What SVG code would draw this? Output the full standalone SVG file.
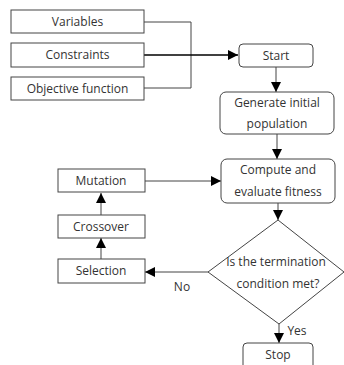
<svg xmlns="http://www.w3.org/2000/svg" width="344" height="365" viewBox="0 0 344 365">
<style>
.box{fill:#fff;stroke:#444;stroke-width:1}
.t{font-family:"Open Sans","Noto Sans",sans-serif;font-size:12px;fill:#333;text-anchor:middle}
.c{fill:none;stroke:#444;stroke-width:1}
</style>
<defs>
<marker id="ah" viewBox="0 0 10 10" refX="10" refY="5" markerWidth="10" markerHeight="10" markerUnits="userSpaceOnUse" orient="auto">
<path d="M0,0 L10,5 L0,10 Z" fill="#000"/>
</marker>
</defs>
<rect width="344" height="365" fill="#fff"/>
<g id="connectors">
<path class="c" d="M144,22 H191 V88 H144"/>
<path class="c" d="M144,55 H238" style="stroke:#000;stroke-width:1.6" marker-end="url(#ah)"/>
<path class="c" d="M276,67 V92" marker-end="url(#ah)"/>
<path class="c" d="M277,134 V159" marker-end="url(#ah)"/>
<path class="c" d="M278,203 V220" marker-end="url(#ah)"/>
<path class="c" d="M208,272 H145" marker-end="url(#ah)"/>
<path class="c" d="M101,259 V238" marker-end="url(#ah)"/>
<path class="c" d="M101,215 V193" marker-end="url(#ah)"/>
<path class="c" d="M145,181 H221" marker-end="url(#ah)"/>
<path class="c" d="M279,324 V343" marker-end="url(#ah)"/>
<text class="t" x="182" y="291">No</text>
<text class="t" x="297" y="335">Yes</text>
</g>
<g id="variables"><rect class="box" x="11" y="10" width="133" height="23"/><text class="t" x="77.5" y="26">Variables</text></g>
<g id="constraints"><rect class="box" x="11" y="43" width="133" height="24"/><text class="t" x="77.5" y="59">Constraints</text></g>
<g id="objective"><rect class="box" x="11" y="77" width="133" height="23"/><text class="t" x="77.5" y="93">Objective function</text></g>
<g id="start"><rect class="box" x="239" y="44" width="74" height="23" rx="4"/><text class="t" x="276" y="60">Start</text></g>
<g id="generate"><rect class="box" x="220" y="92" width="114" height="42" rx="6"/><text class="t" x="277" y="107">Generate initial</text><text class="t" x="277" y="128">population</text></g>
<g id="compute"><rect class="box" x="221" y="159" width="114" height="44" rx="6"/><text class="t" x="278" y="174">Compute and</text><text class="t" x="278" y="196">evaluate fitness</text></g>
<g id="mutation"><rect class="box" x="58" y="169" width="87" height="23"/><text class="t" x="101" y="185">Mutation</text></g>
<g id="crossover"><rect class="box" x="58" y="215" width="87" height="23"/><text class="t" x="101" y="231">Crossover</text></g>
<g id="selection"><rect class="box" x="58" y="259" width="87" height="24"/><text class="t" x="101" y="275">Selection</text></g>
<g id="decision"><path class="box" d="M278,220 L344,272 L279,324 L208,272 Z"/><text class="t" x="276" y="266">Is the termination</text><text class="t" x="278" y="288">condition met?</text></g>
<g id="stop"><rect class="box" x="243" y="343" width="70" height="30" rx="4"/><text class="t" x="278" y="359">Stop</text></g>
</svg>
